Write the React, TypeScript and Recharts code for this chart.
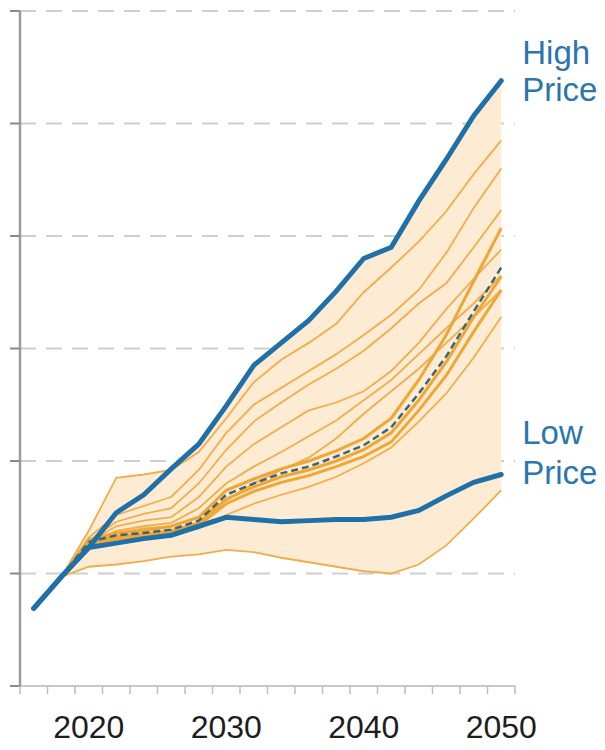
import React from 'react';
import { ComposedChart, Line, Area, XAxis, YAxis, CartesianGrid } from 'recharts';

// scenario years (2-year steps) and values in grid units
const years = [2016, 2018, 2020, 2022, 2024, 2026, 2028, 2030, 2032, 2034, 2036, 2038, 2040, 2042, 2044, 2046, 2048, 2050];

const highPrice = [0.69, 0.97, 1.23, 1.54, 1.7, 1.93, 2.15, 2.49, 2.85, 3.05, 3.25, 3.51, 3.8, 3.9, 4.31, 4.68, 5.07, 5.38];
const lowPrice = [0.69, 0.97, 1.23, 1.27, 1.31, 1.34, 1.42, 1.5, 1.48, 1.46, 1.47, 1.48, 1.48, 1.5, 1.56, 1.69, 1.81, 1.88];
const referenceCase = [null, 0.97, 1.28, 1.34, 1.36, 1.39, 1.47, 1.7, 1.8, 1.89, 1.95, 2.04, 2.14, 2.3, 2.6, 2.93, 3.33, 3.72];

const caseA = [null, 0.97, 1.38, 1.85, 1.88, 1.92, 2.08, 2.38, 2.7, 2.9, 3.05, 3.22, 3.5, 3.72, 3.95, 4.22, 4.55, 4.85];
const caseB = [null, 0.97, 1.32, 1.52, 1.6, 1.68, 1.92, 2.25, 2.5, 2.65, 2.8, 2.95, 3.12, 3.3, 3.52, 3.85, 4.25, 4.6];
const caseC = [null, 0.97, 1.29, 1.46, 1.53, 1.58, 1.8, 2.1, 2.35, 2.52, 2.68, 2.82, 2.98, 3.18, 3.4, 3.58, 3.9, 4.23];
const caseD = [null, 0.97, 1.28, 1.42, 1.47, 1.5, 1.68, 1.95, 2.15, 2.3, 2.45, 2.52, 2.62, 2.8, 3.05, 3.35, 3.62, 3.88];
const caseE = [null, 0.97, 1.27, 1.38, 1.42, 1.45, 1.58, 1.8, 1.95, 2.08, 2.22, 2.36, 2.54, 2.72, 2.95, 3.18, 3.4, 3.65];
const caseF = [null, 0.97, 1.26, 1.36, 1.4, 1.42, 1.5, 1.65, 1.8, 1.92, 2.03, 2.2, 2.42, 2.62, 2.82, 3.05, 3.28, 3.52];
const caseG = [null, 0.97, 1.25, 1.3, 1.32, 1.34, 1.4, 1.52, 1.62, 1.7, 1.77, 1.86, 1.98, 2.12, 2.35, 2.6, 2.92, 3.28];
const caseLowest = [null, 0.97, 1.06, 1.08, 1.11, 1.15, 1.17, 1.21, 1.19, 1.14, 1.1, 1.06, 1.02, 1.0, 1.08, 1.25, 1.49, 1.74];

// bundle hugging the reference case
const coreH = [null, 0.97, 1.3, 1.36, 1.38, 1.42, 1.5, 1.74, 1.84, 1.93, 2.0, 2.09, 2.2, 2.38, 2.72, 3.12, 3.6, 4.07];
const coreI = [null, 0.97, 1.27, 1.33, 1.35, 1.38, 1.45, 1.66, 1.77, 1.86, 1.92, 2.0, 2.1, 2.25, 2.54, 2.88, 3.28, 3.64];
const coreJ = [null, 0.97, 1.25, 1.31, 1.33, 1.36, 1.43, 1.62, 1.73, 1.81, 1.87, 1.95, 2.04, 2.17, 2.45, 2.76, 3.15, 3.52];

const yTicks = [0, 1, 2, 3, 4, 5, 6];
const tickYears = [2015, 2017, 2019, 2021, 2023, 2025, 2027, 2029, 2031, 2033, 2035, 2037, 2039, 2041, 2043, 2045, 2047, 2049, 2051];
const labelYears = [2020, 2030, 2040, 2050];

const thinCases = { caseA, caseB, caseC, caseD, caseE, caseF, caseG, caseLowest };
const coreCases = { coreH, coreI, coreJ };

const data = years.map((year, i) => {
  const row: any = { year, high: highPrice[i], low: lowPrice[i], reference: referenceCase[i] };
  const vals: number[] = [];
  Object.entries({ ...thinCases, ...coreCases }).forEach(([k, arr]) => {
    row[k] = arr[i];
    if (arr[i] != null) vals.push(arr[i] as number);
  });
  if (vals.length) {
    vals.push(highPrice[i], lowPrice[i]);
    row.band = [Math.min(...vals), Math.max(...vals)];
  } else {
    row.band = null;
  }
  return row;
});

const allTicks = [...tickYears, ...labelYears].sort((a, b) => a - b);

const FONT = '"Liberation Sans", Arial, sans-serif';
const BLUE = '#1f6fa8';

const XTick = (props: any) => {
  const { x, y, payload } = props;
  const v = payload.value;
  return (
    <g>
      {tickYears.includes(v) && (
        <line x1={x} x2={x} y1={y} y2={y + 8} stroke="#bdbdbd" strokeWidth={1.5} />
      )}
      {labelYears.includes(v) && (
        <text x={x} y={y + 52} textAnchor="middle" fontSize={32} fill="#1e1e1e" fontFamily={FONT}>
          {v}
        </text>
      )}
    </g>
  );
};

const endLabel = (top: string, bottom: string, dyTop: number, dyBottom: number) => (props: any) => {
  if (props.index !== years.length - 1) return <g />;
  const { x, y } = props;
  return (
    <g>
      <text x={x + 21} y={y + dyTop} fontSize={33} fill="#2a76ad" fontFamily={FONT}>
        {top}
      </text>
      <text x={x + 21} y={y + dyBottom} fontSize={33} fill="#2a76ad" fontFamily={FONT}>
        {bottom}
      </text>
    </g>
  );
};

export default function App() {
  return (
    <div style={{ position: 'absolute', left: 0, top: 0, background: '#fff' }}>
      <ComposedChart
        width={605}
        height={750}
        data={data}
        margin={{ top: 11, right: 90, bottom: 0, left: 0 }}
      >
        <CartesianGrid
          vertical={false}
          stroke="#cfcfcf"
          strokeWidth={2}
          strokeDasharray="16 10"
        />
        <XAxis
          dataKey="year"
          type="number"
          domain={[2015, 2051]}
          ticks={allTicks}
          interval={0}
          tickLine={false}
          tickSize={0}
          tickMargin={0}
          height={64}
          axisLine={{ stroke: '#c8c8c8', strokeWidth: 2 }}
          tick={<XTick />}
        />
        <YAxis
          type="number"
          domain={[0, 6]}
          ticks={yTicks}
          width={20}
          tickSize={10}
          axisLine={{ stroke: '#9c9c9c', strokeWidth: 2.5 }}
          tickLine={{ stroke: '#8a8a8a', strokeWidth: 2 }}
          tick={() => <g />}
        />
        <Area
          dataKey="band"
          type="linear"
          fill="#fdebd3"
          fillOpacity={1}
          stroke="none"
          isAnimationActive={false}
        />
        {Object.keys(thinCases).map((k) => (
          <Line
            key={k}
            dataKey={k}
            type="linear"
            stroke="#efae4a"
            strokeWidth={1.8}
            dot={false}
            isAnimationActive={false}
          />
        ))}
        {Object.keys(coreCases).map((k) => (
          <Line
            key={k}
            dataKey={k}
            type="linear"
            stroke="#f0a633"
            strokeWidth={3}
            dot={false}
            isAnimationActive={false}
          />
        ))}
        <Line
          dataKey="reference"
          type="linear"
          stroke="#3b6579"
          strokeWidth={2.5}
          strokeDasharray="7 4"
          dot={false}
          isAnimationActive={false}
        />
        <Line
          dataKey="low"
          type="linear"
          stroke={BLUE}
          strokeWidth={5}
          strokeLinecap="round"
          dot={false}
          isAnimationActive={false}
          label={endLabel('Low', 'Price', -31, 9)}
        />
        <Line
          dataKey="high"
          type="linear"
          stroke={BLUE}
          strokeWidth={5}
          strokeLinecap="round"
          dot={false}
          isAnimationActive={false}
          label={endLabel('High', 'Price', -17, 20)}
        />
      </ComposedChart>
    </div>
  );
}
